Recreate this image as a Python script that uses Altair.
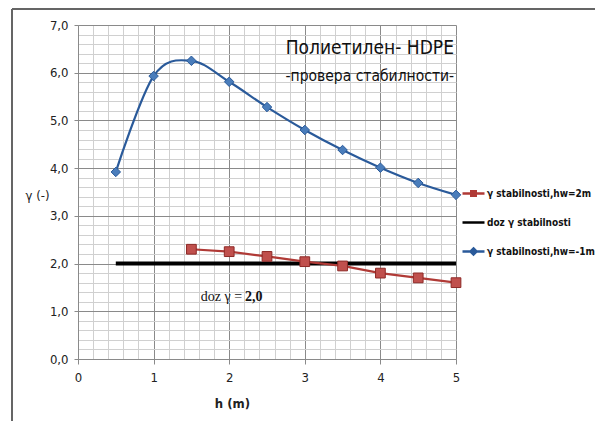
import altair as alt
import pandas as pd

# ---- data ----
h_blue = [0.5, 1.0, 1.5, 2.0, 2.5, 3.0, 3.5, 4.0, 4.5, 5.0]
g_blue = [3.92, 5.93, 6.25, 5.81, 5.28, 4.80, 4.38, 4.01, 3.69, 3.44]
h_red = [1.5, 2.0, 2.5, 3.0, 3.5, 4.0, 4.5, 5.0]
g_red = [2.30, 2.25, 2.15, 2.04, 1.95, 1.80, 1.70, 1.60]
h_doz = [0.5, 5.0]
g_doz = [2.0, 2.0]

s_red = "γ stabilnosti,hw=2m"
s_doz = "doz γ stabilnosti"
s_blue = "γ stabilnosti,hw=-1m"
series_order = [s_red, s_doz, s_blue]
series_colors = ["#b03a36", "#000000", "#2a5a9a"]
legend_paths = [
    "M-2.2,0H-0.45M0.45,0H2.2M-0.45,-0.45H0.45V0.45H-0.45Z",
    "M-2.2,0H2.2",
    "M-2.2,0H-0.6M0.6,0H2.2M0,-0.6L0.6,0L0,0.6L-0.6,0Z",
]

x_ticks = [round(i * 0.2, 1) for i in range(26)]
y_ticks = [round(i * 0.2, 1) for i in range(36)]

title1 = "Полиетилен- HDPE"
title2 = "-провера стабилности-"
note_a = "doz γ ="
note_b = "2,0"

rows = []
for h, g in zip(h_red, g_red):
    rows.append({"h": h, "g": g, "s": s_red})
for h, g in zip(h_doz, g_doz):
    rows.append({"h": h, "g": g, "s": s_doz})
for h, g in zip(h_blue, g_blue):
    rows.append({"h": h, "g": g, "s": s_blue})
df = pd.DataFrame(rows)

narrow = "Liberation Sans Narrow, DejaVu Sans Condensed, Liberation Sans, sans-serif"
is_int = "abs(datum.value - round(datum.value)) < 0.001"

x_scale = alt.Scale(domain=[0, 5], nice=False)
y_scale = alt.Scale(domain=[0, 7], nice=False)

x_axis = alt.Axis(
    values=x_ticks, tickCount=100,
    labelExpr=f"{is_int} ? format(datum.value, 'd') : ''",
    labelOverlap=False, labelFlush=False,
    gridColor={"condition": {"test": is_int, "value": "#8a8a8a"}, "value": "#d0d0d0"},
    tickColor={"condition": {"test": is_int, "value": "#8a8a8a"}, "value": "transparent"},
    tickSize=5, domainColor="#8a8a8a",
    labelFont=narrow, labelFontSize=13, labelColor="#222", labelPadding=7,
    title="h (m)", titleFont=narrow, titleFontSize=13, titleFontWeight="bold",
    titleColor="#222", titleX=154, titleY=44, titleBaseline="middle",
)
y_axis = alt.Axis(
    values=y_ticks, tickCount=100,
    labelExpr=f"{is_int} ? replace(format(datum.value, '.1f'), '.', ',') : ''",
    labelOverlap=False, labelFlush=False,
    gridColor={"condition": {"test": is_int, "value": "#8a8a8a"}, "value": "#d0d0d0"},
    tickColor={"condition": {"test": is_int, "value": "#8a8a8a"}, "value": "transparent"},
    tickSize=4, domainColor="#8a8a8a",
    labelFont=narrow, labelFontSize=13, labelColor="#222", labelPadding=6,
    title="γ (-)", titleFont=narrow, titleFontSize=13, titleFontWeight="normal",
    titleColor="#222", titleAngle=0, titleX=-41, titleY=170,
    titleAlign="center", titleBaseline="middle",
)

legend = alt.Legend(
    title=None, orient="none", legendX=389, legendY=162,
    symbolSize=100, symbolOpacity=1, symbolStrokeWidth=2.5,
    labelOffset=7, rowPadding=15,
    labelFont=narrow, labelFontSize=10, labelFontWeight="bold", labelColor="#111",
    labelLimit=200,
)
series_scale = alt.Scale(domain=series_order, range=series_colors)

base = alt.Chart(df).encode(
    x=alt.X("h:Q", scale=x_scale, axis=x_axis),
    y=alt.Y("g:Q", scale=y_scale, axis=y_axis),
    color=alt.Color("s:N", scale=series_scale, legend=legend),
)

blue_line = base.transform_filter(alt.datum.s == s_blue).mark_line(
    interpolate="cardinal", strokeWidth=2.2)
red_line = base.transform_filter(alt.datum.s == s_red).mark_line(
    strokeWidth=2.2, color="#9e2d2a")
doz_line = base.transform_filter(alt.datum.s == s_doz).mark_line(strokeWidth=4)
blue_pts = base.transform_filter(alt.datum.s == s_blue).mark_point(
    shape="diamond", size=90, filled=True, opacity=1, fill="#4a7dbb",
    stroke="#2a5a9a", strokeWidth=1)
red_pts = base.transform_filter(alt.datum.s == s_red).mark_point(
    shape="square", size=95, filled=True, opacity=1, fill="#c0504d",
    stroke="#8e2a27", strokeWidth=1)

# layer with no drawn marks that gives the legend its line + marker symbols
legend_layer = alt.Chart(df).transform_filter("false").mark_point(filled=True).encode(
    x=alt.X("h:Q", scale=x_scale),
    y=alt.Y("g:Q", scale=y_scale),
    fill=alt.Fill("s:N", scale=series_scale, legend=legend),
    stroke=alt.Stroke("s:N", scale=series_scale, legend=legend),
    shape=alt.Shape("s:N", scale=alt.Scale(domain=series_order, range=legend_paths),
                    legend=legend),
)

text_df = pd.DataFrame({
    "h": [3.86, 3.86],
    "g": [6.52, 5.93],
    "t": [title1, title2],
    "fs": [19, 15.5],
})
titles = alt.Chart(text_df).mark_text(font=narrow, color="#111").encode(
    x=alt.X("h:Q", scale=x_scale), y=alt.Y("g:Q", scale=y_scale),
    text="t:N", size=alt.Size("fs:Q", scale=None, legend=None),
)

note_df = pd.DataFrame({"h": [2.17], "g": [1.30], "t": [note_a]})
note1 = alt.Chart(note_df).mark_text(
    font="Liberation Serif, serif", fontSize=14, color="#111", align="right"
).encode(x=alt.X("h:Q", scale=x_scale), y=alt.Y("g:Q", scale=y_scale), text="t:N")
note2_df = pd.DataFrame({"h": [2.21], "g": [1.30], "t": [note_b]})
note2 = alt.Chart(note2_df).mark_text(
    font="Liberation Serif, serif", fontSize=14, fontWeight="bold", color="#111", align="left"
).encode(x=alt.X("h:Q", scale=x_scale), y=alt.Y("g:Q", scale=y_scale), text="t:N")

frame_left = alt.Chart(df).mark_rule(color="#666", strokeWidth=1.5).encode(
    x=alt.value(-66), y=alt.value(-16), y2=alt.value(400))
frame_top = alt.Chart(df).mark_rule(color="#666", strokeWidth=1.5).encode(
    x=alt.value(-66), x2=alt.value(520), y=alt.value(-16))

chart = alt.layer(
    frame_left, frame_top,
    doz_line, red_line, blue_line, red_pts, blue_pts,
    titles, note1, note2, legend_layer,
).properties(
    width=378, height=334,
    autosize=alt.AutoSizeParams(type="none"),
    padding={"left": 70, "top": 17, "right": 139, "bottom": 62},
    background="white",
).configure_view(strokeWidth=0)

chart.save("out.html", embed_options={"renderer": "svg", "actions": False})
